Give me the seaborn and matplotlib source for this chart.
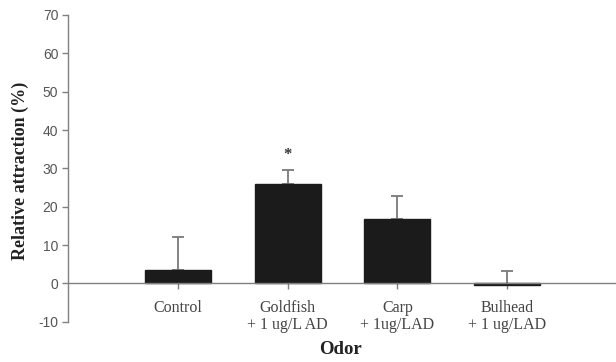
import matplotlib
matplotlib.use("Agg")
import matplotlib.pyplot as plt
import seaborn as sns
import numpy as np
import pandas as pd

# Data
categories = ["Control", "Goldfish\n+ 1 ug/L AD", "Carp\n+ 1ug/LAD", "Bulhead\n+ 1 ug/LAD"]
values = [3.4, 26.0, 16.9, -0.4]
errors_up = [8.6, 3.5, 5.8, 3.5]
yticks = [-10, 0, 10, 20, 30, 40, 50, 60, 70]

sns.set_style("white")
plt.rcParams["font.family"] = ["Liberation Serif", "DejaVu Serif"]

fig = plt.figure(figsize=(6.16, 3.62), dpi=100)
ax = fig.add_axes([68/616, 1 - 321.7/362, (617-68)/616, (321.7-15)/362])

df = pd.DataFrame({"Odor": categories, "val": values})
sns.barplot(data=df, x="Odor", y="val", color="#1b1b1b", width=0.6,
            errorbar=None, saturation=1, ax=ax, zorder=2)
for p in ax.patches:
    p.set_edgecolor("#1b1b1b")

xpos = np.arange(len(categories))
ax.errorbar(xpos, values, yerr=[np.zeros(len(values)), errors_up], fmt="none",
            ecolor="#7a7a7a", elinewidth=1.3, capsize=4, capthick=1.3, zorder=1)

ax.text(1, 33.5, "*", ha="center", va="center", fontsize=12, fontweight="bold",
        color="#333333")

ax.set_xlim(-1, 4)
ax.set_ylim(-10, 70)
ax.set_yticks(yticks)
ax.set_yticklabels([str(t) for t in yticks])
ax.set_xticks(xpos)
ax.set_xticklabels(categories)

for s in ["top", "right"]:
    ax.spines[s].set_visible(False)
ax.spines["bottom"].set_position(("data", 0))
for s in ["left", "bottom"]:
    ax.spines[s].set_color("#808080")
    ax.spines[s].set_linewidth(1.0)

ax.tick_params(axis="y", direction="out", length=4, width=1, color="#808080", pad=3, left=True,
               labelsize=10, labelcolor="#555555")
ax.tick_params(axis="x", direction="out", length=4, width=1, color="#808080", pad=8, bottom=True,
               labelsize=11.5, labelcolor="#444444")

ax.set_xlabel("")
ax.set_ylabel("")
fig.text(340/616, 1 - 350/362, "Odor", ha="center", va="center",
         fontweight="bold", fontsize=13.5, color="#222222")
fig.text(20/616, 1 - 171/362, "Relative attraction (%)", ha="center", va="center",
         rotation=90, fontweight="bold", fontsize=13, color="#222222")

for lbl in ax.get_yticklabels():
    lbl.set_fontfamily(["Liberation Sans", "DejaVu Sans"])
for lbl in ax.get_xticklabels():
    lbl.set_linespacing(1.05)

fig.savefig("out.png", dpi=100)
